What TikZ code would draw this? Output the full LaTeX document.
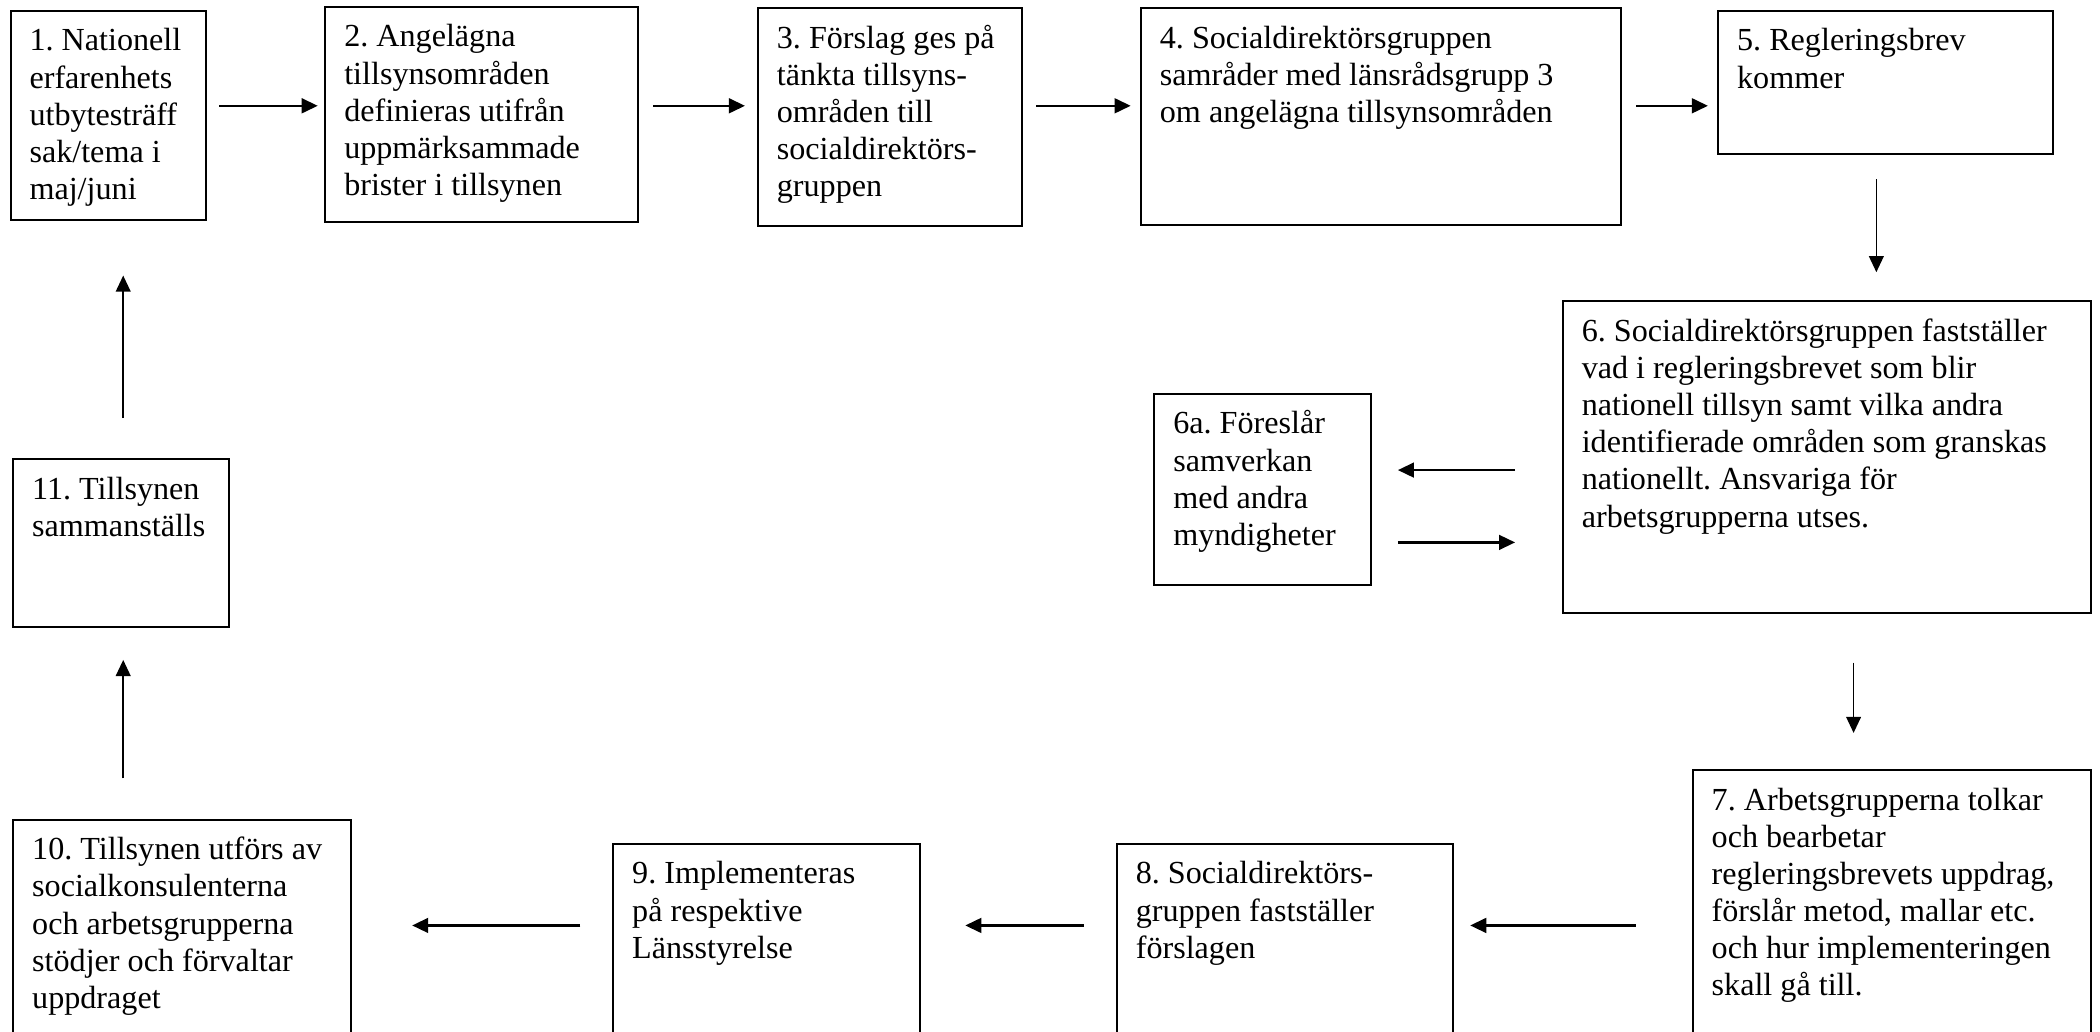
\documentclass[tikz,border=0pt]{standalone}
\usepackage{fontspec}
\setmainfont{Liberation Serif}
\usetikzlibrary{arrows.meta,fit}
\frenchspacing

\tikzset{
  frame/.style={draw, line width=0.75pt, inner sep=0pt, rectangle},
  txt/.style={anchor=north west, inner sep=0pt, align=left,
              font=\fontsize{12pt}{13.85pt}\selectfont},
  tip/.style={-{Triangle[length=6pt,width=5.5pt]}},
  harr/.style={tip, line width=0.9pt},
  varr/.style={tip, line width=0.6pt}
}

% box: name, x1, y1, x2, y2, text
\newcommand\flowbox[6]{%
  \node[frame, fit={(#2,#3)(#4,#5)}] (#1) {};
  \node[txt] (#1t) at ([shift={(14.4,11)}]#1.north west) {\strut#6};
}

\begin{document}
\begin{tikzpicture}[x=0.5pt, y=-0.5pt]
  \useasboundingbox (0,0) rectangle (1568,770);
  \fill[white] (0,0) rectangle (1568,770);
  \clip (0,0) rectangle (1568,770);

  % top row
  \flowbox{b1}{8}{8}{154}{164}{1. Nationell\\erfarenhets\\utbytesträff\\sak/tema i\\maj/juni}
  \flowbox{b2}{243}{5}{476}{166}{2. Angelägna\\tillsynsområden\\definieras utifrån\\uppmärksammade\\brister i tillsynen}
  \flowbox{b3}{566}{6}{763}{169}{3. Förslag ges på\\tänkta tillsyns-\\områden till\\socialdirektörs-\\gruppen}
  \flowbox{b4}{852}{6}{1210}{168}{4. Socialdirektörsgruppen\\samråder med länsrådsgrupp 3\\om angelägna tillsynsområden}
  \flowbox{b5}{1283}{8}{1533}{115}{5. Regleringsbrev\\kommer}

  % middle row
  \flowbox{b6}{1167}{225}{1561}{458}{6. Socialdirektörsgruppen fastställer\\vad i regleringsbrevet som blir\\nationell tillsyn samt vilka andra\\identifierade områden som granskas\\nationellt. Ansvariga för\\arbetsgrupperna utses.}
  \flowbox{b6a}{862}{294}{1024}{437}{6a. Föreslår\\samverkan\\med andra\\myndigheter}
  \flowbox{b11}{10}{343}{171}{468}{11. Tillsynen\\sammanställs}

  % bottom row (runs past the lower edge)
  \flowbox{b10}{10}{612}{262}{800}{10. Tillsynen utförs av\\socialkonsulenterna\\och arbetsgrupperna\\stödjer och förvaltar\\uppdraget}
  \flowbox{b9}{458}{630}{687}{800}{9. Implementeras\\på respektive\\Länsstyrelse}
  \flowbox{b8}{834}{630}{1085}{800}{8. Socialdirektörs-\\gruppen fastställer\\förslagen}
  \flowbox{b7}{1264}{575}{1561}{800}{7. Arbetsgrupperna tolkar\\och bearbetar\\regleringsbrevets uppdrag,\\förslår metod, mallar etc.\\och hur implementeringen\\skall gå till.}

  % connectors
  \draw[harr, shorten <=4.5pt, shorten >=2.5pt] (b1.east |- 0,79) -- (b2.west |- 0,79);
  \draw[harr, shorten <=5.5pt, shorten >=4.5pt] (b2.east |- 0,79) -- (b3.west |- 0,79);
  \draw[harr, shorten <=5pt, shorten >=3.5pt] (b3.east |- 0,79) -- (b4.west |- 0,79);
  \draw[harr, shorten <=5.5pt, shorten >=3.5pt] (b4.east |- 0,79) -- (b5.west |- 0,79);
  \draw[varr, shorten <=9pt, shorten >=10.5pt] (b5.south -| 1401,0) -- (b6.north -| 1401,0);
  \draw[harr, shorten <=17.5pt, shorten >=9.5pt] (b6.west |- 0,351) -- (b6a.east |- 0,351);
  \draw[harr, shorten <=9.5pt, shorten >=17.5pt] (b6a.east |- 0,405) -- (b6.west |- 0,405);
  \draw[varr, shorten <=18pt, shorten >=13.5pt] (b6.south -| 1384,0) -- (b7.north -| 1384,0);
  \draw[harr, shorten <=21pt, shorten >=6pt] (b7.west |- 0,691) -- (b8.east |- 0,691);
  \draw[harr, shorten <=12pt, shorten >=16.5pt] (b8.west |- 0,691) -- (b9.east |- 0,691);
  \draw[harr, shorten <=12pt, shorten >=22.5pt] (b9.west |- 0,691) -- (b10.east |- 0,691);
  \draw[varr, shorten <=15pt, shorten >=12pt] (b10.north -| 92,0) -- (b11.south -| 92,0);
  \draw[varr, shorten <=15pt, shorten >=20.5pt] (b11.north -| 92,0) -- (b1.south -| 92,0);
\end{tikzpicture}
\end{document}
